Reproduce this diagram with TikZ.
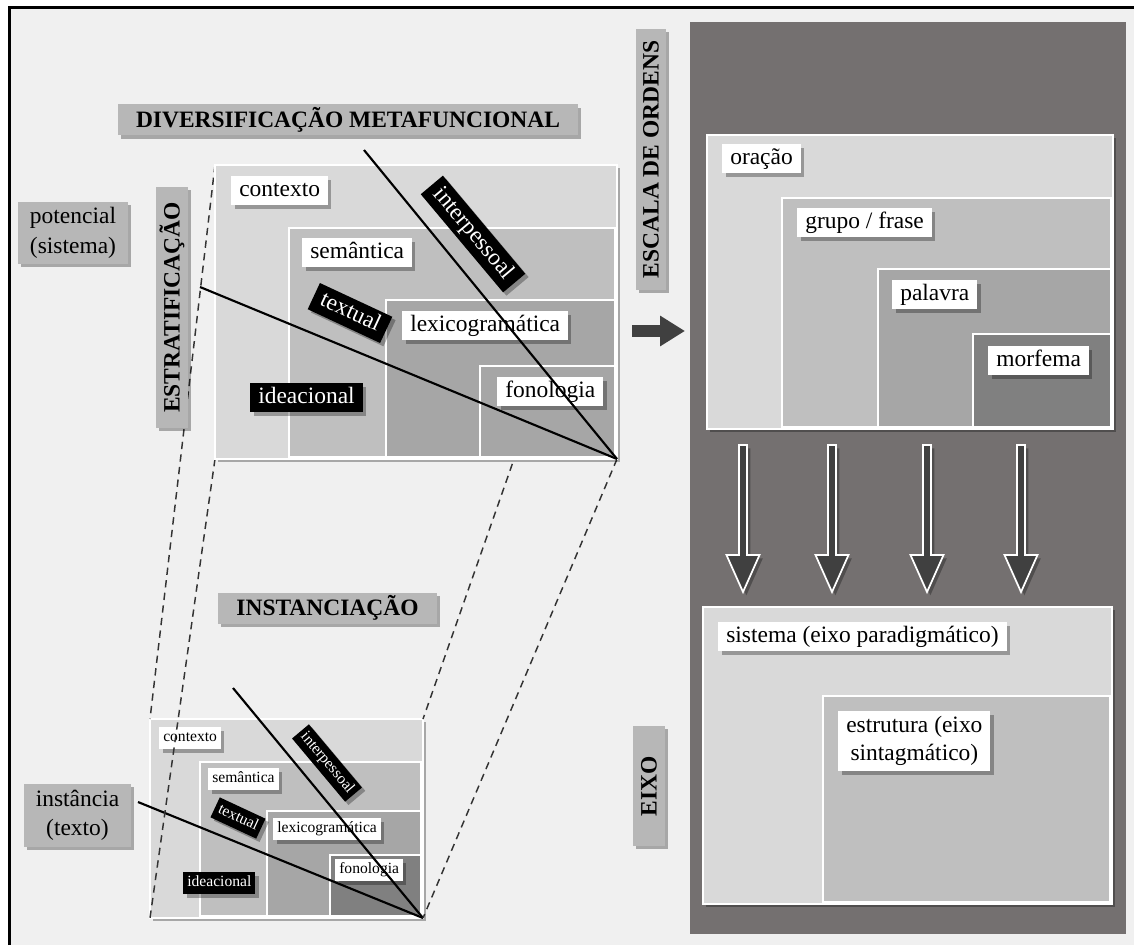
\documentclass[tikz,border=0pt]{standalone}
\usepackage{fontspec}
\setmainfont{Liberation Serif}
\usetikzlibrary{arrows.meta,calc,positioning,shadows}
\definecolor{smBack}{HTML}{F0F0F0}
\definecolor{smPanel}{HTML}{747070}
\definecolor{smLevelA}{HTML}{D9D9D9}
\definecolor{smLevelB}{HTML}{BFBFBF}
\definecolor{smLevelC}{HTML}{A6A6A6}
\definecolor{smLevelD}{HTML}{808080}
\definecolor{smTag}{HTML}{B7B7B7}
\definecolor{smArrow}{HTML}{404040}
\definecolor{smDash}{HTML}{333333}

\begin{document}
\begin{tikzpicture}[x=0.75pt,y=-0.75pt,
  font=\fontsize{17.6}{21}\selectfont,
  smshadow/.style={drop shadow={shadow xshift=2.5pt,shadow yshift=-2.5pt,opacity=.3,fill=black}},
  smlevel/.style={draw=white,line width=1.5pt},
  smlabel/.style={fill=white,text=black,inner xsep=6pt,inner ysep=2.85pt,
    text height=12pt,text depth=4pt,smshadow},
  smdark/.style={smlabel,fill=black,text=white},
  smsmall/.style={font=\fontsize{11.7}{14}\selectfont,inner xsep=3pt,inner ysep=2.9pt,
    text height=8pt,text depth=2.7pt},
  smtag/.style={fill=smTag,font=\bfseries\fontsize{17.6}{21}\selectfont,inner sep=0pt,
    minimum height=23.25pt,smshadow},
  smtagv/.style={smtag,minimum height=0pt,minimum width=24pt},
  smside/.style={fill=smTag,inner sep=0pt,align=center,font=\fontsize{17.6}{22}\selectfont,smshadow},
  smaxis/.style={draw=black,line width=1.6pt},
  smproj/.style={draw=smDash,line width=1.1pt,dash pattern=on 5.5pt off 4pt},
  smdown/.style={draw=white,fill=smArrow,line width=1.3pt,smshadow}]
  \useasboundingbox (0,0) rectangle (1134,945);
  \fill[white] (0,0) rectangle (1134,945);
  \fill[smBack] (11,9) rectangle (1134,945);
  \draw[line width=2.25pt] (9.5,945) -- (9.5,7.5) -- (1134,7.5);

  % corners of the two strata panels
  \coordinate (topNW) at (215,165);
  \coordinate (topSW) at (215,459);
  \coordinate (topNE) at (617,165);
  \coordinate (topSE) at (617,459);
  \coordinate (botNW) at (150,719);
  \coordinate (botSW) at (150,918);
  \coordinate (botNE) at (423,719);
  \coordinate (botSE) at (423,918);

  % instance (small panel)
  \draw[smlevel,fill=smLevelA,smshadow] (botNW) rectangle (botSE);
  \draw[smlevel,fill=smLevelB] (200,762) rectangle (421,916);
  \draw[smlevel,fill=smLevelC] (267,811) rectangle (421,916);
  \draw[smlevel,fill=smLevelD] (330,855) rectangle (421,916);
  \node[smlabel,smsmall,anchor=north west] (botCtx) at (159,727) {contexto};
  \node[smlabel,smsmall,anchor=north west] (botSem) at (208,768) {semântica};
  \node[smlabel,smsmall,anchor=north west] (botLex) at (273,818) {lexicogramática};
  \node[smlabel,smsmall,anchor=north west] (botFon) at (335,859) {fonologia};
  \node[smdark,smsmall,anchor=north west] (botIde) at (183,872) {ideacional};
  \node[smdark,smsmall,rotate=-25] (botTxt) at (238,818) {textual};
  \node[smdark,smsmall,rotate=-50] (botInt) at (327,763) {interpessoal};
  \coordinate (botMeta) at (233,688);
  \coordinate (botStrat) at (138,802);
  \draw[smaxis] (botMeta) -- (botSE);
  \draw[smaxis] (botStrat) -- (botSE);

  % projection between potential and instance
  \draw[smproj] (topNW) -- (botNW);
  \draw[smproj] (topSW) -- (botSW);
  \draw[smproj] (topNE) -- (botNE);
  \draw[smproj] (topSE) -- (botSE);

  % potential (large panel)
  \draw[smlevel,fill=smLevelA,smshadow] (topNW) rectangle (topSE);
  \draw[smlevel,fill=smLevelB] (289,228) rectangle (615,457);
  \draw[smlevel,fill=smLevelC] (386,300) rectangle (615,457);
  \draw[smlevel,fill=smLevelC] (480,366) rectangle (615,457);
  \node[smlabel,anchor=north west] (topCtx) at (231,176) {contexto};
  \node[smlabel,anchor=north west] (topSem) at (302,238) {semântica};
  \node[smlabel,anchor=north west] (topLex) at (402,311) {lexicogramática};
  \node[smlabel,anchor=north west] (topFon) at (497,377) {fonologia};
  \node[smdark,anchor=north west] (topIde) at (250,383) {ideacional};
  \node[smdark,rotate=-25] (topTxt) at (350,313) {textual};
  \node[smdark,rotate=-50] (topInt) at (473,234) {interpessoal};
  \coordinate (topMeta) at (364,150);
  \coordinate (topStrat) at (200,287);
  \draw[smaxis] (topMeta) -- (topSE);
  \draw[smaxis] (topStrat) -- (topSE);

  % dimension tags
  \node[smtag,minimum width=345pt] (metaTag) at (348,120) {DIVERSIFICAÇÃO METAFUNCIONAL};
  \node[smtagv,minimum height=180.75pt] (stratTag) at (172,307.5) {\rotatebox{90}{ESTRATIFICAÇÃO}};
  \node[smtag,minimum width=164.25pt] (instTag) at (327.5,608) {INSTANCIAÇÃO};
  \node[smtagv,minimum height=195.75pt,minimum width=22.5pt] (rankTag) at (651,159.5) {\rotatebox{90}{ESCALA DE ORDENS}};
  \node[smtagv,minimum height=90pt] (axisTag) at (649,786) {\rotatebox{90}{EIXO}};
  \node[smside,minimum width=82.5pt,minimum height=46.5pt] (potTag) at (73,233) {potencial\\(sistema)};
  \node[smside,minimum width=80.25pt,minimum height=47.25pt] (instSide) at (77.5,815.5) {instância\\(texto)};

  % rank scale and axis
  \fill[smPanel] (690,22) rectangle (1126,934);
  \coordinate (rankNW) at (707,135);
  \coordinate (rankSE) at (1113,429);
  \coordinate (axisNW) at (703,607);
  \coordinate (axisSE) at (1112,904);
  \draw[smlevel,fill=smLevelA,smshadow] (rankNW) rectangle (rankSE);
  \draw[smlevel,fill=smLevelB] (782,198) rectangle (1111,427);
  \draw[smlevel,fill=smLevelC] (878,269) rectangle (1111,427);
  \draw[smlevel,fill=smLevelD] (973,334) rectangle (1111,427);
  \node[smlabel,anchor=north west] (rkClause) at (722,144) {oração};
  \node[smlabel,anchor=north west] (rkGroup) at (797,208) {grupo / frase};
  \node[smlabel,anchor=north west] (rkWord) at (892,280) {palavra};
  \node[smlabel,anchor=north west] (rkMorph) at (988,346) {morfema};
  \draw[smlevel,fill=smLevelA,smshadow] (axisNW) rectangle (axisSE);
  \draw[smlevel,fill=smLevelB] (823,696) rectangle (1110,902);
  \node[smlabel,anchor=north west] (axSys) at (718,622) {sistema (eixo paradigmático)};
  \node[smlabel,anchor=north west,align=center,text height=,text depth=,inner ysep=4pt] (axStr) at (838,711) {estrutura (eixo\\sintagmático)};

  \coordinate (goS) at (632,331);
  \coordinate (goE) at (685,331);
  \draw[draw=smArrow,line width=9pt,-{Triangle[length=18.75pt,width=21.75pt]}] (goS) -- (goE);
  \foreach \x in {743,832,927,1021}
    {\draw[smdown] ({\x-4},445) -- ({\x+4},445) -- ({\x+4},555) -- ({\x+16.5},555)
      -- (\x,592) -- ({\x-16.5},555) -- ({\x-4},555) -- cycle;}
\end{tikzpicture}
\end{document}
